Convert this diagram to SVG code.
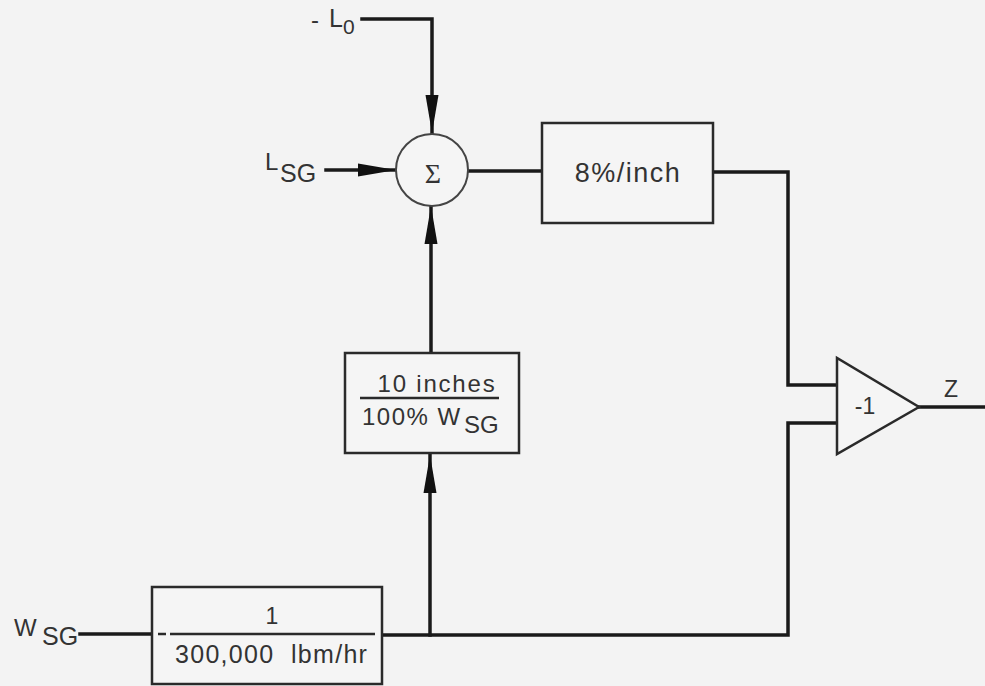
<svg xmlns="http://www.w3.org/2000/svg" width="985" height="686" viewBox="0 0 985 686">
<style>
.bg{fill:#f3f3f3}
.box{fill:#f5f5f5;stroke:#2a2a2a;stroke-width:2.5}
.wire{fill:none;stroke:#1a1a1a;stroke-width:3.5;stroke-linecap:square}
.frac{stroke:#2a2a2a;stroke-width:2.5}
text{font-family:"Liberation Sans",Arial,sans-serif;fill:#333}
.sig{font-family:"Liberation Serif","Times New Roman",serif}
</style>
<defs>
<marker id="arr" markerUnits="userSpaceOnUse" markerWidth="40" markerHeight="18" refX="38" refY="8" orient="auto">
<path d="M0,1.5 L38,8 L0,14.5 Z" fill="#111"/>
</marker>
</defs>
<rect class="bg" x="0" y="0" width="985" height="686"/>
<g id="connectors">
<path class="wire" d="M362,19 H432 V133" marker-end="url(#arr)"/>
<path class="wire" d="M326,170 H396" marker-end="url(#arr)"/>
<path class="wire" d="M431,353 V206" marker-end="url(#arr)"/>
<path class="wire" d="M468,171 H542"/>
<path class="wire" d="M713,172 H788 V385 H837"/>
<path class="wire" d="M837,423 H788 V635 H382"/>
<path class="wire" d="M430,635 V455" marker-end="url(#arr)"/>
<path class="wire" d="M80,634 H152"/>
<path class="wire" d="M919,407 H985"/>
</g>
<g id="in-L0"><text x="311" y="28" font-size="24">-</text><text x="329" y="27" font-size="25">L</text><text x="343" y="34" font-size="21">0</text></g>
<g id="in-LSG"><text x="265" y="170" font-size="24">L</text><text x="280" y="182" font-size="25">SG</text></g>
<g id="in-WSG"><text x="14" y="636" font-size="24">W</text><text x="42" y="645" font-size="25">SG</text></g>
<g id="sum"><circle cx="432" cy="170" r="36" fill="#f5f5f5" stroke="#444" stroke-width="2"/><text class="sig" x="433" y="183" font-size="28" text-anchor="middle">Σ</text></g>
<g id="gain8"><rect class="box" x="542" y="123" width="171" height="100"/><text x="628" y="182" font-size="27" letter-spacing="1.5" text-anchor="middle">8%/inch</text></g>
<g id="gain10"><rect class="box" x="345" y="353" width="174" height="100"/><text x="437" y="392" font-size="24" letter-spacing="1.8" text-anchor="middle">10 inches</text><line class="frac" x1="360" y1="398" x2="499" y2="398"/><text x="362" y="425" font-size="24" letter-spacing="1.5">100% W</text><text x="464" y="433" font-size="24">SG</text></g>
<g id="norm"><rect class="box" x="152" y="587" width="230" height="97"/><line class="frac" x1="158" y1="634" x2="166" y2="634"/><text x="272" y="624" font-size="23" text-anchor="middle">1</text><line class="frac" x1="170" y1="634" x2="375" y2="634"/><text x="175" y="663" font-size="25" letter-spacing="1.3" xml:space="preserve">300,000  lbm/hr</text></g>
<g id="invert"><polygon points="837,358 837,454 919,407" fill="#f5f5f5" stroke="#2a2a2a" stroke-width="2.5"/><text x="865" y="414" font-size="23" text-anchor="middle">-1</text></g>
<g id="out-Z"><text x="951" y="397" font-size="23" text-anchor="middle">Z</text></g>
</svg>
